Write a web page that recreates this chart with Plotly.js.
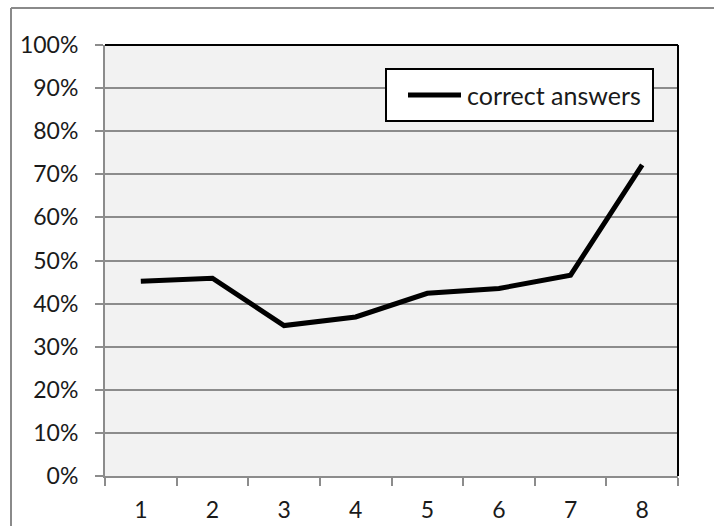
<!DOCTYPE html>
<html>
<head>
<meta charset="utf-8">
<script src="https://cdn.plot.ly/plotly-3.0.1.min.js"></script>
<style>
html,body{margin:0;padding:0;background:#fff;}
#chart{width:714px;height:526px;}
</style>
</head>
<body>
<div id="chart"></div>
<script>
const categories = ["1","2","3","4","5","6","7","8"];
const correctAnswers = [0.452, 0.459, 0.349, 0.369, 0.424, 0.435, 0.466, 0.722];
const seriesName = "correct answers";
const yTickVals = [0,0.1,0.2,0.3,0.4,0.5,0.6,0.7,0.8,0.9,1.0];

const W = 714, H = 526;
const m = {l:105, r:36, t:45, b:50};
const pw = W - m.l - m.r, ph = H - m.t - m.b;
const px = v => (v - m.l) / pw;
const py = v => (H - m.b - v) / ph;

const trace = {
  x: categories,
  y: correctAnswers,
  type: 'scatter',
  mode: 'lines',
  name: seriesName,
  line: {color:'#000', width:5},
  showlegend: false
};

const layout = {
  width: W, height: H,
  margin: m,
  paper_bgcolor: '#fff',
  plot_bgcolor: '#f2f2f2',
  font: {family:'Lato, "DejaVu Sans", sans-serif', size:23, color:'#1a1a1a'},
  showlegend: false,
  xaxis: {
    type:'category',
    range:[-0.5, 7.5],
    tickson:'boundaries',
    ticks:'outside', ticklen:8, tickwidth:2, tickcolor:'#8c8c8c',
    showline:true, linecolor:'#8c8c8c', linewidth:2,
    showgrid:false, zeroline:false,
    tickfont:{size:23},
    ticklabelstandoff: 12,
    fixedrange:true
  },
  yaxis: {
    range:[0,1],
    tickvals: yTickVals,
    tickformat:'.0%',
    ticks:'outside', ticklen:8, tickwidth:2, tickcolor:'#8c8c8c',
    showline:true, linecolor:'#8c8c8c', linewidth:2,
    showgrid:true, gridcolor:'#8c8c8c', gridwidth:2,
    zeroline:false,
    tickfont:{size:23},
    ticklabelstandoff: 12,
    fixedrange:true
  },
  shapes: [
    {type:'line', xref:'paper', yref:'paper', x0:0, x1:1, y0:1, y1:1, line:{color:'#000', width:2}},
    {type:'line', xref:'paper', yref:'paper', x0:1, x1:1, y0:0, y1:1, line:{color:'#000', width:2}},
    {type:'line', xref:'paper', yref:'paper', x0:px(11), x1:px(720), y0:py(8), y1:py(8), line:{color:'#8a8a8a', width:2}},
    {type:'line', xref:'paper', yref:'paper', x0:px(11), x1:px(11), y0:py(8), y1:py(530), line:{color:'#8a8a8a', width:2}},
    // legend box and sample line
    {type:'rect', xref:'paper', yref:'paper', x0:px(386), x1:px(653), y0:py(69), y1:py(121), fillcolor:'#fff', line:{color:'#000', width:2}},
    {type:'line', xref:'paper', yref:'paper', x0:px(408), x1:px(461), y0:py(95), y1:py(95), line:{color:'#000', width:5}}
  ],
  annotations: [
    {text: seriesName, xref:'paper', yref:'paper', x:px(465), y:py(95), xanchor:'left', yanchor:'middle', showarrow:false, font:{size:25, color:'#1a1a1a'}}
  ]
};

Plotly.newPlot('chart', [trace], layout, {displayModeBar:false, staticPlot:true});
</script>
</body>
</html>
